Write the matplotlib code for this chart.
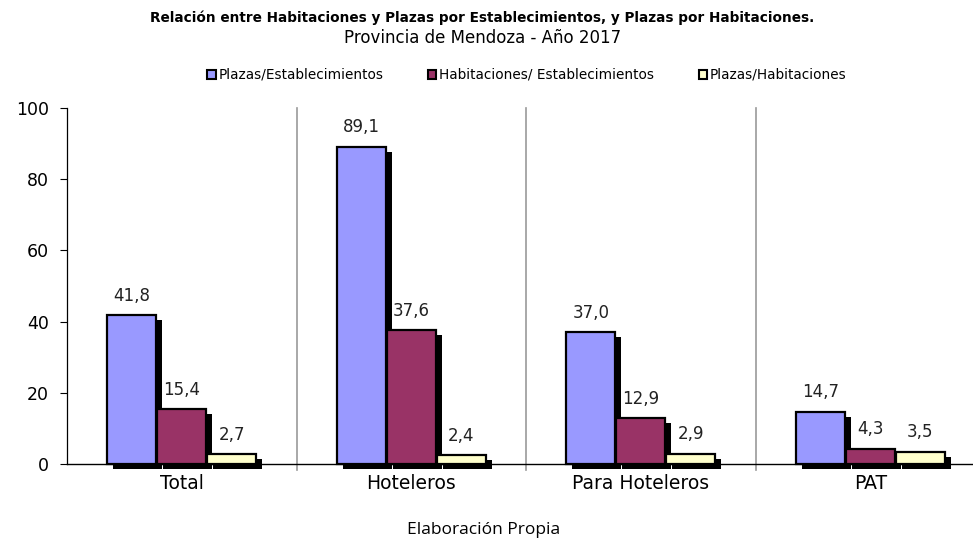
import numpy as np
import matplotlib
matplotlib.use("Agg")
import matplotlib.pyplot as plt
import matplotlib.patheffects as pe
from matplotlib.patches import Patch

# Data
categorias = ["Total", "Hoteleros", "Para Hoteleros", "PAT"]
plazas_estab = [41.8, 89.1, 37.0, 14.7]
habit_estab = [15.4, 37.6, 12.9, 4.3]
plazas_habit = [2.7, 2.4, 2.9, 3.5]
series = ["Plazas/Establecimientos", "Habitaciones/ Establecimientos", "Plazas/Habitaciones"]
colores = ["#9999FF", "#993366", "#FFFFCC"]

fig = plt.figure(figsize=(9.73, 5.4), dpi=100)
ax = fig.add_axes([67 / 973, 1 - 464 / 540, (985 - 67) / 973, (464 - 108) / 540])

x = np.arange(len(categorias))
w = 0.215
sombra = [pe.SimplePatchShadow(offset=(4.3, -3.6), shadow_rgbFace="black", alpha=1.0), pe.Normal()]

for k, (vals, col) in enumerate(zip([plazas_estab, habit_estab, plazas_habit], colores)):
    pos = x + (k - 1) * 0.218
    bars = ax.bar(pos, vals, w, color=col, edgecolor="black", linewidth=1.6,
                  clip_on=False, zorder=3)
    for b in bars:
        b.set_path_effects(sombra)
    for p, v in zip(pos, vals):
        ax.annotate(f"{v:.1f}".replace(".", ","), (p, v), xytext=(0, 14),
                    textcoords="offset points", ha="center", va="center",
                    fontsize=12, color="#222222", zorder=4)

ax.set_xlim(-0.5, 3.5)
ax.set_ylim(0, 100)
ax.set_yticks([0, 20, 40, 60, 80, 100])
ax.tick_params(axis="y", labelsize=12.5, length=5, width=0.8, pad=8)
ax.set_xticks(x)
ax.set_xticklabels(categorias)
ax.tick_params(axis="x", labelsize=13.5, length=0, pad=7)

# category separators
for s in [0.5, 1.5, 2.5]:
    ax.plot([s, s], [-1.7, 100], color="#999999", linewidth=1.2, clip_on=False, zorder=1)

ax.spines["top"].set_visible(False)
ax.spines["right"].set_visible(False)
ax.spines["left"].set_linewidth(0.9)
ax.spines["bottom"].set_linewidth(1.0)
ax.spines["bottom"].set_zorder(2)

fig.text(482 / 973, 1 - 18 / 540, "Relación entre Habitaciones y Plazas por Establecimientos, y Plazas por Habitaciones.",
         ha="center", va="center", fontsize=9.8, fontweight="bold")
fig.text(483 / 973, 1 - 38 / 540, "Provincia de Mendoza - Año 2017", ha="center", va="center", fontsize=12)

handles = [Patch(facecolor=c, edgecolor="black", linewidth=1.5) for c in colores]
fig.legend(handles, series, loc="center", bbox_to_anchor=(527 / 973, 1 - 75 / 540), ncol=3,
           frameon=False, fontsize=9.8, handlelength=0.6, handleheight=0.6,
           handletextpad=0.2, columnspacing=3.3)

fig.text(484 / 973, 1 - 530 / 540, "Elaboración Propia", ha="center", va="center",
         fontsize=12.5, family="Open Sans")

fig.savefig("out.png", dpi=100)
